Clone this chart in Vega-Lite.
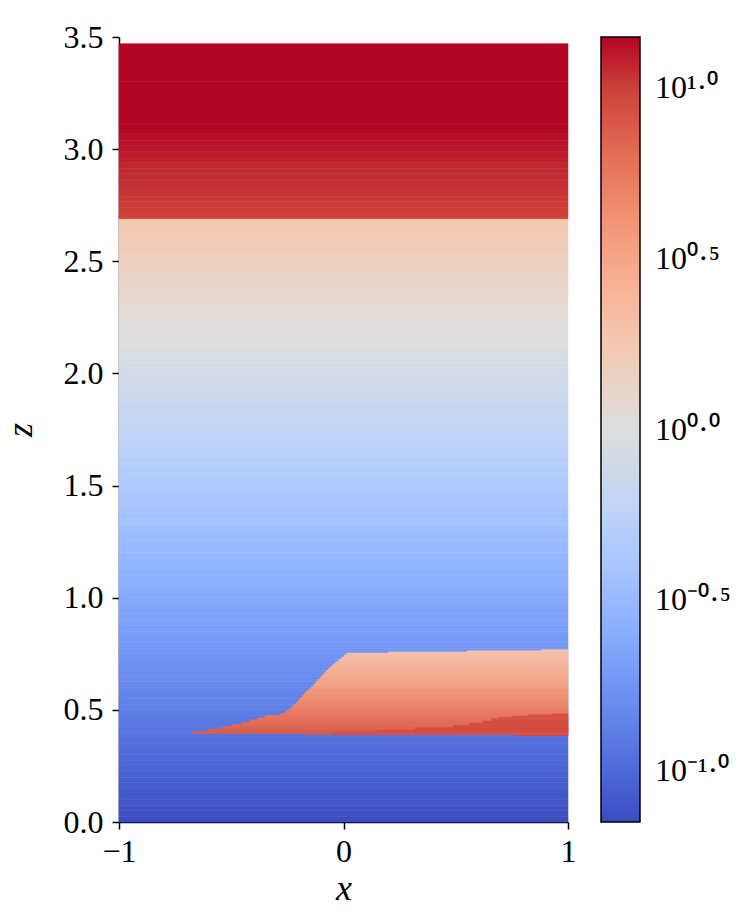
{
  "$schema": "https://vega.github.io/schema/vega-lite/v6.json",
  "width": 449,
  "height": 785,
  "autosize": {"type": "none"},
  "padding": {"left": 119, "top": 37, "right": 179, "bottom": 92},
  "background": "white",
  "config": {
    "view": {"stroke": null},
    "axis": {
      "grid": false,
      "domainColor": "black",
      "domainWidth": 1.5,
      "tickColor": "black",
      "tickWidth": 1.5,
      "tickSize": 7,
      "labelFont": "Liberation Serif",
      "labelFontSize": 32,
      "labelColor": "black",
      "labelFlush": false,
      "labelOverlap": false,
      "titleFont": "Liberation Serif",
      "titleFontStyle": "italic",
      "titleFontWeight": "normal",
      "titleFontSize": 36,
      "titleColor": "black"
    }
  },
  "data": {
    "values": [
      {"x0": -1, "x1": 1, "z0": 0.000, "z1": 0.025, "lv": -1.143},
      {"x0": -1, "x1": 1, "z0": 0.025, "z1": 0.050, "lv": -1.130},
      {"x0": -1, "x1": 1, "z0": 0.050, "z1": 0.075, "lv": -1.117},
      {"x0": -1, "x1": 1, "z0": 0.075, "z1": 0.100, "lv": -1.104},
      {"x0": -1, "x1": 1, "z0": 0.100, "z1": 0.125, "lv": -1.090},
      {"x0": -1, "x1": 1, "z0": 0.125, "z1": 0.150, "lv": -1.077},
      {"x0": -1, "x1": 1, "z0": 0.150, "z1": 0.175, "lv": -1.064},
      {"x0": -1, "x1": 1, "z0": 0.175, "z1": 0.200, "lv": -1.051},
      {"x0": -1, "x1": 1, "z0": 0.200, "z1": 0.225, "lv": -1.037},
      {"x0": -1, "x1": 1, "z0": 0.225, "z1": 0.250, "lv": -1.024},
      {"x0": -1, "x1": 1, "z0": 0.250, "z1": 0.275, "lv": -1.011},
      {"x0": -1, "x1": 1, "z0": 0.275, "z1": 0.300, "lv": -0.998},
      {"x0": -1, "x1": 1, "z0": 0.300, "z1": 0.325, "lv": -0.984},
      {"x0": -1, "x1": 1, "z0": 0.325, "z1": 0.350, "lv": -0.971},
      {"x0": -1, "x1": 1, "z0": 0.350, "z1": 0.375, "lv": -0.958},
      {"x0": -1, "x1": 1, "z0": 0.375, "z1": 0.400, "lv": -0.945},
      {"x0": -1, "x1": 1, "z0": 0.400, "z1": 0.425, "lv": -0.931},
      {"x0": -1, "x1": 1, "z0": 0.425, "z1": 0.450, "lv": -0.918},
      {"x0": -1, "x1": 1, "z0": 0.450, "z1": 0.475, "lv": -0.905},
      {"x0": -1, "x1": 1, "z0": 0.475, "z1": 0.500, "lv": -0.892},
      {"x0": -1, "x1": 1, "z0": 0.500, "z1": 0.525, "lv": -0.878},
      {"x0": -1, "x1": 1, "z0": 0.525, "z1": 0.550, "lv": -0.865},
      {"x0": -1, "x1": 1, "z0": 0.550, "z1": 0.575, "lv": -0.852},
      {"x0": -1, "x1": 1, "z0": 0.575, "z1": 0.600, "lv": -0.839},
      {"x0": -1, "x1": 1, "z0": 0.600, "z1": 0.625, "lv": -0.825},
      {"x0": -1, "x1": 1, "z0": 0.625, "z1": 0.650, "lv": -0.812},
      {"x0": -1, "x1": 1, "z0": 0.650, "z1": 0.675, "lv": -0.799},
      {"x0": -1, "x1": 1, "z0": 0.675, "z1": 0.700, "lv": -0.786},
      {"x0": -1, "x1": 1, "z0": 0.700, "z1": 0.725, "lv": -0.772},
      {"x0": -1, "x1": 1, "z0": 0.725, "z1": 0.750, "lv": -0.759},
      {"x0": -1, "x1": 1, "z0": 0.750, "z1": 0.775, "lv": -0.746},
      {"x0": -1, "x1": 1, "z0": 0.775, "z1": 0.800, "lv": -0.733},
      {"x0": -1, "x1": 1, "z0": 0.800, "z1": 0.825, "lv": -0.719},
      {"x0": -1, "x1": 1, "z0": 0.825, "z1": 0.850, "lv": -0.706},
      {"x0": -1, "x1": 1, "z0": 0.850, "z1": 0.875, "lv": -0.693},
      {"x0": -1, "x1": 1, "z0": 0.875, "z1": 0.900, "lv": -0.680},
      {"x0": -1, "x1": 1, "z0": 0.900, "z1": 0.925, "lv": -0.666},
      {"x0": -1, "x1": 1, "z0": 0.925, "z1": 0.950, "lv": -0.653},
      {"x0": -1, "x1": 1, "z0": 0.950, "z1": 0.975, "lv": -0.640},
      {"x0": -1, "x1": 1, "z0": 0.975, "z1": 1.000, "lv": -0.627},
      {"x0": -1, "x1": 1, "z0": 1.000, "z1": 1.025, "lv": -0.613},
      {"x0": -1, "x1": 1, "z0": 1.025, "z1": 1.050, "lv": -0.600},
      {"x0": -1, "x1": 1, "z0": 1.050, "z1": 1.075, "lv": -0.587},
      {"x0": -1, "x1": 1, "z0": 1.075, "z1": 1.100, "lv": -0.574},
      {"x0": -1, "x1": 1, "z0": 1.100, "z1": 1.125, "lv": -0.560},
      {"x0": -1, "x1": 1, "z0": 1.125, "z1": 1.150, "lv": -0.547},
      {"x0": -1, "x1": 1, "z0": 1.150, "z1": 1.175, "lv": -0.534},
      {"x0": -1, "x1": 1, "z0": 1.175, "z1": 1.200, "lv": -0.521},
      {"x0": -1, "x1": 1, "z0": 1.200, "z1": 1.225, "lv": -0.507},
      {"x0": -1, "x1": 1, "z0": 1.225, "z1": 1.250, "lv": -0.494},
      {"x0": -1, "x1": 1, "z0": 1.250, "z1": 1.275, "lv": -0.481},
      {"x0": -1, "x1": 1, "z0": 1.275, "z1": 1.300, "lv": -0.468},
      {"x0": -1, "x1": 1, "z0": 1.300, "z1": 1.325, "lv": -0.454},
      {"x0": -1, "x1": 1, "z0": 1.325, "z1": 1.350, "lv": -0.441},
      {"x0": -1, "x1": 1, "z0": 1.350, "z1": 1.375, "lv": -0.428},
      {"x0": -1, "x1": 1, "z0": 1.375, "z1": 1.400, "lv": -0.415},
      {"x0": -1, "x1": 1, "z0": 1.400, "z1": 1.425, "lv": -0.401},
      {"x0": -1, "x1": 1, "z0": 1.425, "z1": 1.450, "lv": -0.388},
      {"x0": -1, "x1": 1, "z0": 1.450, "z1": 1.475, "lv": -0.375},
      {"x0": -1, "x1": 1, "z0": 1.475, "z1": 1.500, "lv": -0.362},
      {"x0": -1, "x1": 1, "z0": 1.500, "z1": 1.525, "lv": -0.348},
      {"x0": -1, "x1": 1, "z0": 1.525, "z1": 1.550, "lv": -0.335},
      {"x0": -1, "x1": 1, "z0": 1.550, "z1": 1.575, "lv": -0.322},
      {"x0": -1, "x1": 1, "z0": 1.575, "z1": 1.600, "lv": -0.309},
      {"x0": -1, "x1": 1, "z0": 1.600, "z1": 1.625, "lv": -0.295},
      {"x0": -1, "x1": 1, "z0": 1.625, "z1": 1.650, "lv": -0.282},
      {"x0": -1, "x1": 1, "z0": 1.650, "z1": 1.675, "lv": -0.269},
      {"x0": -1, "x1": 1, "z0": 1.675, "z1": 1.700, "lv": -0.256},
      {"x0": -1, "x1": 1, "z0": 1.700, "z1": 1.725, "lv": -0.242},
      {"x0": -1, "x1": 1, "z0": 1.725, "z1": 1.750, "lv": -0.229},
      {"x0": -1, "x1": 1, "z0": 1.750, "z1": 1.775, "lv": -0.216},
      {"x0": -1, "x1": 1, "z0": 1.775, "z1": 1.800, "lv": -0.203},
      {"x0": -1, "x1": 1, "z0": 1.800, "z1": 1.825, "lv": -0.189},
      {"x0": -1, "x1": 1, "z0": 1.825, "z1": 1.850, "lv": -0.176},
      {"x0": -1, "x1": 1, "z0": 1.850, "z1": 1.875, "lv": -0.163},
      {"x0": -1, "x1": 1, "z0": 1.875, "z1": 1.900, "lv": -0.150},
      {"x0": -1, "x1": 1, "z0": 1.900, "z1": 1.925, "lv": -0.136},
      {"x0": -1, "x1": 1, "z0": 1.925, "z1": 1.950, "lv": -0.123},
      {"x0": -1, "x1": 1, "z0": 1.950, "z1": 1.975, "lv": -0.110},
      {"x0": -1, "x1": 1, "z0": 1.975, "z1": 2.000, "lv": -0.097},
      {"x0": -1, "x1": 1, "z0": 2.000, "z1": 2.025, "lv": -0.083},
      {"x0": -1, "x1": 1, "z0": 2.025, "z1": 2.050, "lv": -0.070},
      {"x0": -1, "x1": 1, "z0": 2.050, "z1": 2.075, "lv": -0.057},
      {"x0": -1, "x1": 1, "z0": 2.075, "z1": 2.100, "lv": -0.044},
      {"x0": -1, "x1": 1, "z0": 2.100, "z1": 2.125, "lv": -0.030},
      {"x0": -1, "x1": 1, "z0": 2.125, "z1": 2.150, "lv": -0.017},
      {"x0": -1, "x1": 1, "z0": 2.150, "z1": 2.175, "lv": -0.004},
      {"x0": -1, "x1": 1, "z0": 2.175, "z1": 2.200, "lv": 0.009},
      {"x0": -1, "x1": 1, "z0": 2.200, "z1": 2.225, "lv": 0.023},
      {"x0": -1, "x1": 1, "z0": 2.225, "z1": 2.250, "lv": 0.036},
      {"x0": -1, "x1": 1, "z0": 2.250, "z1": 2.275, "lv": 0.049},
      {"x0": -1, "x1": 1, "z0": 2.275, "z1": 2.300, "lv": 0.062},
      {"x0": -1, "x1": 1, "z0": 2.300, "z1": 2.325, "lv": 0.076},
      {"x0": -1, "x1": 1, "z0": 2.325, "z1": 2.350, "lv": 0.089},
      {"x0": -1, "x1": 1, "z0": 2.350, "z1": 2.375, "lv": 0.102},
      {"x0": -1, "x1": 1, "z0": 2.375, "z1": 2.400, "lv": 0.115},
      {"x0": -1, "x1": 1, "z0": 2.400, "z1": 2.425, "lv": 0.129},
      {"x0": -1, "x1": 1, "z0": 2.425, "z1": 2.450, "lv": 0.142},
      {"x0": -1, "x1": 1, "z0": 2.450, "z1": 2.475, "lv": 0.155},
      {"x0": -1, "x1": 1, "z0": 2.475, "z1": 2.500, "lv": 0.168},
      {"x0": -1, "x1": 1, "z0": 2.500, "z1": 2.525, "lv": 0.182},
      {"x0": -1, "x1": 1, "z0": 2.525, "z1": 2.550, "lv": 0.195},
      {"x0": -1, "x1": 1, "z0": 2.550, "z1": 2.575, "lv": 0.208},
      {"x0": -1, "x1": 1, "z0": 2.575, "z1": 2.600, "lv": 0.221},
      {"x0": -1, "x1": 1, "z0": 2.600, "z1": 2.625, "lv": 0.235},
      {"x0": -1, "x1": 1, "z0": 2.625, "z1": 2.650, "lv": 0.248},
      {"x0": -1, "x1": 1, "z0": 2.650, "z1": 2.675, "lv": 0.261},
      {"x0": -1, "x1": 1, "z0": 2.675, "z1": 2.690, "lv": 0.272},
      {"x0": -1, "x1": 1, "z0": 2.690, "z1": 2.715, "lv": 0.995},
      {"x0": -1, "x1": 1, "z0": 2.715, "z1": 2.740, "lv": 1.004},
      {"x0": -1, "x1": 1, "z0": 2.740, "z1": 2.765, "lv": 1.014},
      {"x0": -1, "x1": 1, "z0": 2.765, "z1": 2.790, "lv": 1.024},
      {"x0": -1, "x1": 1, "z0": 2.790, "z1": 2.815, "lv": 1.033},
      {"x0": -1, "x1": 1, "z0": 2.815, "z1": 2.840, "lv": 1.043},
      {"x0": -1, "x1": 1, "z0": 2.840, "z1": 2.865, "lv": 1.052},
      {"x0": -1, "x1": 1, "z0": 2.865, "z1": 2.890, "lv": 1.062},
      {"x0": -1, "x1": 1, "z0": 2.890, "z1": 2.915, "lv": 1.072},
      {"x0": -1, "x1": 1, "z0": 2.915, "z1": 2.940, "lv": 1.081},
      {"x0": -1, "x1": 1, "z0": 2.940, "z1": 2.965, "lv": 1.091},
      {"x0": -1, "x1": 1, "z0": 2.965, "z1": 2.990, "lv": 1.100},
      {"x0": -1, "x1": 1, "z0": 2.990, "z1": 3.015, "lv": 1.110},
      {"x0": -1, "x1": 1, "z0": 3.015, "z1": 3.040, "lv": 1.120},
      {"x0": -1, "x1": 1, "z0": 3.040, "z1": 3.065, "lv": 1.129},
      {"x0": -1, "x1": 1, "z0": 3.065, "z1": 3.090, "lv": 1.139},
      {"x0": -1, "x1": 1, "z0": 3.090, "z1": 3.115, "lv": 1.148},
      {"x0": -1, "x1": 1, "z0": 3.115, "z1": 3.300, "lv": 1.200},
      {"x0": -1, "x1": 1, "z0": 3.300, "z1": 3.470, "lv": 1.280},
      {"x0": -0.17, "x1": 1, "z0": 0.390, "z1": 0.395, "lv": 0.890},
      {"x0": -0.67, "x1": 1, "z0": 0.395, "z1": 0.405, "lv": 0.877},
      {"x0": -0.60, "x1": 1, "z0": 0.405, "z1": 0.415, "lv": 0.861},
      {"x0": -0.54, "x1": 1, "z0": 0.415, "z1": 0.425, "lv": 0.845},
      {"x0": -0.495, "x1": 1, "z0": 0.425, "z1": 0.435, "lv": 0.829},
      {"x0": -0.455, "x1": 1, "z0": 0.435, "z1": 0.445, "lv": 0.813},
      {"x0": -0.417, "x1": 1, "z0": 0.445, "z1": 0.455, "lv": 0.797},
      {"x0": -0.385, "x1": 1, "z0": 0.455, "z1": 0.465, "lv": 0.781},
      {"x0": -0.35, "x1": 1, "z0": 0.465, "z1": 0.475, "lv": 0.765},
      {"x0": -0.28, "x1": 1, "z0": 0.475, "z1": 0.485, "lv": 0.749},
      {"x0": -0.258, "x1": 1, "z0": 0.485, "z1": 0.495, "lv": 0.733},
      {"x0": -0.243, "x1": 1, "z0": 0.495, "z1": 0.505, "lv": 0.717},
      {"x0": -0.232, "x1": 1, "z0": 0.505, "z1": 0.515, "lv": 0.701},
      {"x0": -0.222, "x1": 1, "z0": 0.515, "z1": 0.525, "lv": 0.685},
      {"x0": -0.21, "x1": 1, "z0": 0.525, "z1": 0.535, "lv": 0.669},
      {"x0": -0.201, "x1": 1, "z0": 0.535, "z1": 0.545, "lv": 0.653},
      {"x0": -0.192, "x1": 1, "z0": 0.545, "z1": 0.555, "lv": 0.637},
      {"x0": -0.183, "x1": 1, "z0": 0.555, "z1": 0.565, "lv": 0.621},
      {"x0": -0.175, "x1": 1, "z0": 0.565, "z1": 0.575, "lv": 0.605},
      {"x0": -0.166, "x1": 1, "z0": 0.575, "z1": 0.585, "lv": 0.589},
      {"x0": -0.153, "x1": 1, "z0": 0.585, "z1": 0.595, "lv": 0.573},
      {"x0": -0.142, "x1": 1, "z0": 0.595, "z1": 0.605, "lv": 0.557},
      {"x0": -0.133, "x1": 1, "z0": 0.605, "z1": 0.615, "lv": 0.541},
      {"x0": -0.124, "x1": 1, "z0": 0.615, "z1": 0.625, "lv": 0.525},
      {"x0": -0.115, "x1": 1, "z0": 0.625, "z1": 0.635, "lv": 0.509},
      {"x0": -0.105, "x1": 1, "z0": 0.635, "z1": 0.645, "lv": 0.493},
      {"x0": -0.096, "x1": 1, "z0": 0.645, "z1": 0.655, "lv": 0.477},
      {"x0": -0.086, "x1": 1, "z0": 0.655, "z1": 0.665, "lv": 0.461},
      {"x0": -0.077, "x1": 1, "z0": 0.665, "z1": 0.675, "lv": 0.445},
      {"x0": -0.067, "x1": 1, "z0": 0.675, "z1": 0.685, "lv": 0.429},
      {"x0": -0.057, "x1": 1, "z0": 0.685, "z1": 0.695, "lv": 0.413},
      {"x0": -0.047, "x1": 1, "z0": 0.695, "z1": 0.705, "lv": 0.397},
      {"x0": -0.035, "x1": 1, "z0": 0.705, "z1": 0.715, "lv": 0.381},
      {"x0": -0.022, "x1": 1, "z0": 0.715, "z1": 0.725, "lv": 0.365},
      {"x0": -0.009, "x1": 1, "z0": 0.725, "z1": 0.735, "lv": 0.349},
      {"x0": 0.004, "x1": 1, "z0": 0.735, "z1": 0.745, "lv": 0.333},
      {"x0": 0.016, "x1": 1, "z0": 0.745, "z1": 0.753, "lv": 0.319},
      {"x0": 0.2, "x1": 1, "z0": 0.753, "z1": 0.758, "lv": 0.312},
      {"x0": 0.55, "x1": 1, "z0": 0.758, "z1": 0.763, "lv": 0.304},
      {"x0": 0.88, "x1": 1, "z0": 0.763, "z1": 0.768, "lv": 0.296},
      {"x0": 0.77, "x1": 1, "z0": 0.385, "z1": 0.390, "lv": 0.960},
      {"x0": -0.05, "x1": 1, "z0": 0.390, "z1": 0.400, "lv": 0.920},
      {"x0": 0.15, "x1": 1, "z0": 0.400, "z1": 0.410, "lv": 0.935},
      {"x0": 0.32, "x1": 1, "z0": 0.410, "z1": 0.420, "lv": 0.945},
      {"x0": 0.49, "x1": 1, "z0": 0.420, "z1": 0.430, "lv": 0.945},
      {"x0": 0.56, "x1": 1, "z0": 0.430, "z1": 0.440, "lv": 0.942},
      {"x0": 0.62, "x1": 1, "z0": 0.440, "z1": 0.450, "lv": 0.938},
      {"x0": 0.66, "x1": 1, "z0": 0.450, "z1": 0.460, "lv": 0.934},
      {"x0": 0.69, "x1": 1, "z0": 0.460, "z1": 0.467, "lv": 0.930},
      {"x0": 0.75, "x1": 1, "z0": 0.467, "z1": 0.472, "lv": 0.927},
      {"x0": 0.82, "x1": 1, "z0": 0.472, "z1": 0.477, "lv": 0.924},
      {"x0": 0.93, "x1": 1, "z0": 0.477, "z1": 0.482, "lv": 0.920}
    ]
  },
  "mark": {"type": "rect", "strokeWidth": 0.6, "stroke": {"expr": "scale('color', datum.lv)"}},
  "encoding": {
    "x": {
      "field": "x0",
      "type": "quantitative",
      "scale": {"domain": [-1, 1], "nice": false, "zero": false},
      "axis": {"title": "x", "tickCount": 2, "labelPadding": 7, "titlePadding": 4}
    },
    "x2": {"field": "x1"},
    "y": {
      "field": "z0",
      "type": "quantitative",
      "scale": {"domain": [0, 3.5], "nice": false, "zero": false},
      "axis": {"title": "z", "values": [0, 0.5, 1, 1.5, 2, 2.5, 3, 3.5], "format": ".1f", "labelPadding": 9, "titlePadding": 24}
    },
    "y2": {"field": "z1"},
    "color": {
      "field": "lv",
      "type": "quantitative",
      "scale": {
        "domain": [-1.15, -1.078125, -1.00625, -0.934375, -0.8625, -0.790625, -0.71875, -0.646875, -0.575, -0.503125, -0.43125, -0.359375, -0.2875, -0.215625, -0.14375, -0.071875, 0, 0.071875, 0.14375, 0.215625, 0.2875, 0.359375, 0.43125, 0.503125, 0.575, 0.646875, 0.71875, 0.790625, 0.8625, 0.934375, 1.00625, 1.078125, 1.15],
        "range": ["#3b4cc0", "#445acc", "#4d68d7", "#5775e1", "#6282ea", "#6c8ef1", "#779af7", "#82a5fb", "#8db0fe", "#98b9ff", "#a3c2ff", "#aec9fd", "#b8d0f9", "#c2d5f4", "#ccd9ee", "#d5dbe6", "#dddddd", "#e5d8d1", "#ecd3c5", "#f1ccb9", "#f5c4ad", "#f7bba0", "#f7b194", "#f7a687", "#f49a7b", "#f18d6f", "#ec7f63", "#e57058", "#de604d", "#d55042", "#cb3e38", "#c0282f", "#b40426"],
        "interpolate": "rgb",
        "clamp": true,
        "nice": false,
        "zero": false
      },
      "legend": {
        "type": "gradient",
        "title": null,
        "orient": "right",
        "direction": "vertical",
        "offset": 33,
        "padding": 0,
        "values": [-1, -0.5, 0, 0.5, 1],
        "labelExpr": "datum.value == 1 ? '10¹·⁰' : datum.value == 0.5 ? '10⁰·⁵' : datum.value == 0 ? '10⁰·⁰' : datum.value == -0.5 ? '10⁻⁰·⁵' : '10⁻¹·⁰'",
        "gradientLength": 785,
        "gradientThickness": 39,
        "gradientStrokeColor": "black",
        "gradientStrokeWidth": 1.5,
        "labelFont": "Liberation Serif",
        "labelFontSize": 32,
        "labelColor": "black",
        "labelOffset": 15,
        "labelOverlap": false
      }
    }
  }
}
